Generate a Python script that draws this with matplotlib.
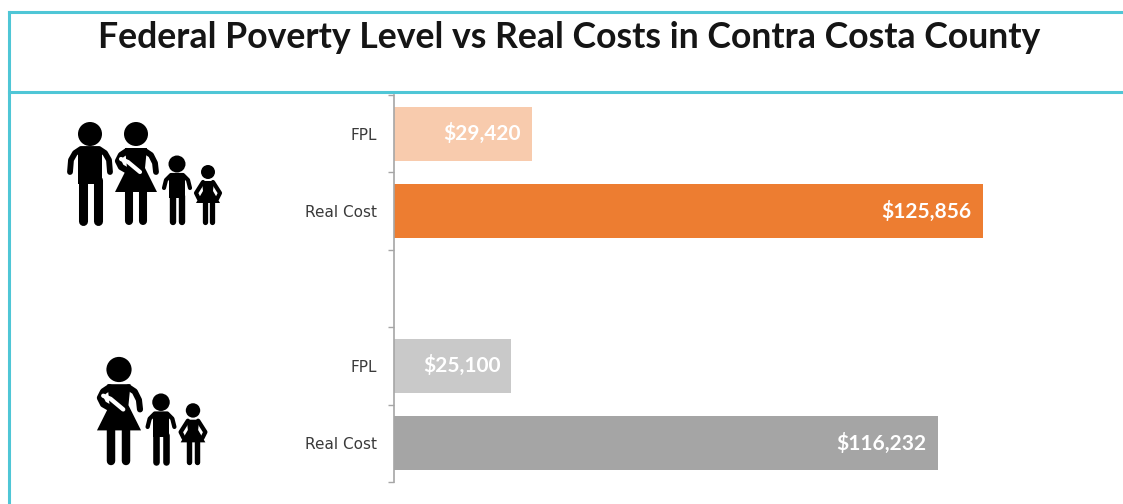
import matplotlib.pyplot as plt
from matplotlib.patches import Circle, Polygon

title = 'Federal Poverty Level vs Real Costs in Contra Costa County'
categories = ['FPL', 'Real Cost', '', 'FPL', 'Real Cost']
positions = [0, 1, 3, 4]
values = [29420, 125856, 25100, 116232]
value_labels = ['$29,420', '$125,856', '$25,100', '$116,232']
bar_colors = ['#F8CBAD', '#ED7D31', '#C9C9C9', '#A5A5A5']

W, H = 1123, 504
TEAL = '#4FC6D6'

fig = plt.figure(figsize=(W / 100, H / 100), dpi=100, facecolor='white')

# full figure layer in pixels for the frame, title and icons
bg = fig.add_axes([0, 0, 1, 1])
bg.set_xlim(0, W)
bg.set_ylim(H, 0)
bg.axis('off')

bg.plot([9, W], [12, 12], color=TEAL, lw=2.2)
bg.plot([9, W], [92, 92], color=TEAL, lw=2.2)
bg.plot([9, 9], [12, H], color=TEAL, lw=2.2)
bg.text(569.5, 38, title, family='Lato', weight='bold', fontsize=25.7, color='#151515',
        ha='center', va='center')


def limb(xs, ys, lw):
    bg.plot(xs, ys, color='black', lw=lw, solid_capstyle='round', solid_joinstyle='round')


def body(points):
    bg.add_patch(Polygon(points, color='black', lw=0))


def adult_man(cx, bottom, s=1.0):
    top = bottom - 102 * s
    bg.add_patch(Circle((cx, top + 12 * s), 12 * s, color='black', lw=0))
    body([(cx - 12 * s, top + 26 * s), (cx + 12 * s, top + 26 * s),
          (cx + 12 * s, top + 62 * s), (cx - 12 * s, top + 62 * s)])
    # arms as one curve over the shoulders
    limb([cx - 20 * s, cx - 19 * s, cx - 15 * s, cx - 9 * s, cx + 9 * s, cx + 15 * s, cx + 19 * s, cx + 20 * s],
         [top + 50 * s, top + 38 * s, top + 31 * s, top + 27 * s, top + 27 * s, top + 31 * s, top + 38 * s, top + 50 * s],
         4.2 * s)
    limb([cx - 7.5 * s, cx - 7.5 * s], [top + 58 * s, bottom - 3], 6.5 * s)
    limb([cx + 7.5 * s, cx + 7.5 * s], [top + 58 * s, bottom - 3], 6.5 * s)


def adult_woman(cx, bottom, s=1.0):
    top = bottom - 102 * s
    bg.add_patch(Circle((cx, top + 12 * s), 12 * s, color='black', lw=0))
    body([(cx - 11 * s, top + 26 * s), (cx + 11 * s, top + 26 * s), (cx + 9 * s, top + 46 * s),
          (cx + 21 * s, top + 70 * s), (cx - 21 * s, top + 70 * s), (cx - 9 * s, top + 46 * s)])
    limb([cx - 9 * s, cx - 15 * s, cx - 18 * s, cx - 15 * s, cx - 8 * s],
         [top + 29 * s, top + 33 * s, top + 39 * s, top + 45 * s, top + 49 * s], 4.5 * s)
    limb([cx + 9 * s, cx + 15 * s, cx + 19 * s, cx + 20 * s],
         [top + 29 * s, top + 33 * s, top + 41 * s, top + 50 * s], 4.2 * s)
    limb([cx - 7.5 * s, cx - 7.5 * s], [top + 66 * s, bottom - 3], 5.8 * s)
    limb([cx + 6.5 * s, cx + 6.5 * s], [top + 66 * s, bottom - 3], 5.8 * s)
    # white scarf across the chest
    bg.plot([cx - 15 * s, cx - 8 * s, cx + 4 * s], [top + 37 * s, top + 40 * s, top + 50 * s],
            color='white', lw=3 * s, solid_capstyle='round')


def boy(cx, bottom, s=1.0):
    top = bottom - 68 * s
    bg.add_patch(Circle((cx, top + 8 * s), 8.5 * s, color='black', lw=0))
    body([(cx - 8 * s, top + 18 * s), (cx + 8 * s, top + 18 * s),
          (cx + 8 * s, top + 42 * s), (cx - 8 * s, top + 42 * s)])
    limb([cx - 13 * s, cx - 11 * s, cx - 6 * s, cx + 6 * s, cx + 11 * s, cx + 13 * s],
         [top + 32 * s, top + 24 * s, top + 19 * s, top + 19 * s, top + 24 * s, top + 32 * s], 3 * s)
    limb([cx - 4.5 * s, cx - 4.5 * s], [top + 40 * s, bottom - 2], 4.6 * s)
    limb([cx + 4.5 * s, cx + 4.5 * s], [top + 40 * s, bottom - 2], 4.6 * s)


def girl(cx, bottom, s=1.0):
    top = bottom - 59 * s
    bg.add_patch(Circle((cx, top + 7 * s), 7 * s, color='black', lw=0))
    body([(cx - 6 * s, top + 16 * s), (cx + 6 * s, top + 16 * s), (cx + 5 * s, top + 26 * s),
          (cx + 12 * s, top + 38 * s), (cx - 12 * s, top + 38 * s), (cx - 5 * s, top + 26 * s)])
    limb([cx - 5 * s, cx - 12 * s, cx - 9 * s], [top + 17 * s, top + 28 * s, top + 34 * s], 3 * s)
    limb([cx + 5 * s, cx + 12 * s, cx + 9 * s], [top + 17 * s, top + 28 * s, top + 34 * s], 3 * s)
    limb([cx - 3.5 * s, cx - 3.5 * s], [top + 36 * s, bottom - 2], 3.8 * s)
    limb([cx + 3.5 * s, cx + 3.5 * s], [top + 36 * s, bottom - 2], 3.8 * s)


adult_man(90, 224)
adult_woman(136, 224)
boy(177, 224)
girl(208, 224)

adult_woman(119, 464, 1.05)
boy(161, 464, 1.03)
girl(193, 464, 1.03)

# bars, 4.68 px per 1000 dollars
ax = fig.add_axes([394 / W, 1 - 482 / H, 655 / W, 387 / H])
ax.patch.set_alpha(0)
ax.barh(positions, values, height=0.7, color=bar_colors)
ax.set_xlim(0, 140000)
ax.set_ylim(4.5, -0.5)

for p, v, lab in zip(positions, values, value_labels):
    ax.annotate(lab, (v, p), xytext=(-8, 0), textcoords='offset points', ha='right', va='center',
                color='white', family='Lato', weight='bold', fontsize=15)

ax.set_yticks(range(len(categories)))
ax.set_yticklabels(categories, fontsize=11, color='#3A3A3A')
ax.tick_params(axis='y', which='major', length=0, pad=12)
ax.set_yticks([-0.5, 0.5, 1.5, 2.5, 3.5, 4.5], minor=True)
ax.tick_params(axis='y', which='minor', length=4, width=1, color='#A6A6A6')
ax.set_xticks([])
for side in ['top', 'right', 'bottom']:
    ax.spines[side].set_visible(False)
ax.spines['left'].set_color('#A6A6A6')
ax.spines['left'].set_linewidth(1.2)

fig.savefig('out.png', dpi=100)
